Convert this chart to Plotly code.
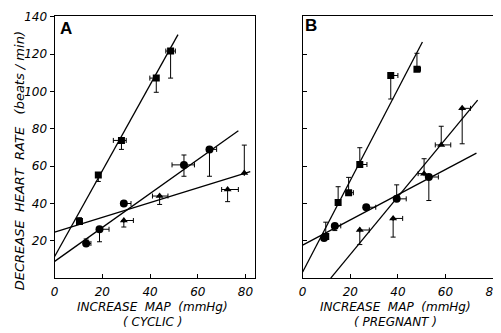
import plotly.graph_objects as go

# ---------------- Panel A (cyclic) ----------------
sqA_x = [10.4, 18.3, 28.0, 42.6, 48.6]
sqA_y = [30.4, 55.3, 73.8, 107.2, 121.7]
sqA_ey_plus = [2.0, 0, 0, 0, 0]
sqA_ey_minus = [0, 3.5, 4.8, 7.6, 14.5]
sqA_ex_plus = [0, 0, 2.0, 0, 2.0]
sqA_ex_minus = [0, 0, 3.4, 2.7, 2.0]

ciA_x = [13.2, 18.8, 29.0, 54.2, 64.9]
ciA_y = [18.6, 26.2, 40.0, 60.7, 69.0]
ciA_ey_plus = [2.4, 0, 0, 5.3, 0]
ciA_ey_minus = [0, 6.7, 0, 6.1, 14.4]
ciA_ex_plus = [2.0, 4.0, 3.0, 4.4, 3.0]
ciA_ex_minus = [0, 0, 0, 5.0, 0]

trA_x = [29.0, 44.0, 72.5, 79.5]
trA_y = [30.9, 44.0, 47.5, 56.3]
trA_ey_plus = [0, 0, 0, 15.0]
trA_ey_minus = [3.5, 4.5, 6.5, 0]
trA_ex_plus = [4.0, 3.5, 4.5, 0]
trA_ex_minus = [0, 3.0, 2.5, 0]

# regression lines A: slope, intercept, x-start, x-end
fitA_slope = [2.30, 0.909, 0.395]
fitA_intercept = [11.6, 9.0, 24.7]
fitA_xstart = [0, 0, 0]
fitA_xend = [51.7, 77.0, 82.0]

# ---------------- Panel B (pregnant) ----------------
sqB_x = [9.7, 14.9, 19.3, 24.0, 37.0, 48.0]
sqB_y = [22.3, 40.5, 45.8, 60.9, 108.6, 112.0]
sqB_ey_plus = [7.7, 8.5, 8.2, 9.0, 0, 8.5]
sqB_ey_minus = [0, 0, 0, 0, 12.6, 0]
sqB_ex_plus = [0, 0, 2.0, 3.0, 3.0, 1.5]
sqB_ex_minus = [0, 0, 0, 0, 0, 0]

ciB_x = [9.0, 13.5, 26.7, 39.5, 53.0]
ciB_y = [21.5, 28.0, 38.0, 42.5, 54.2]
ciB_ey_plus = [0, 0, 0, 7.5, 0]
ciB_ey_minus = [0, 2.5, 0, 0, 12.6]
ciB_ex_plus = [0, 2.5, 4.0, 4.0, 4.0]
ciB_ex_minus = [0, 0, 0, 0, 0]

trB_x = [24.0, 38.0, 51.0, 58.2, 67.0]
trB_y = [25.8, 32.0, 56.0, 71.4, 91.0]
trB_ey_plus = [0, 0, 8.0, 10.0, 0]
trB_ey_minus = [7.8, 10.0, 0, 0, 19.0]
trB_ex_plus = [4.0, 4.0, 0, 4.0, 3.5]
trB_ex_minus = [0, 0, 2.5, 2.5, 0]

fitB_slope = [2.45, 0.675, 1.546]
fitB_intercept = [3.3, 17.7, -18.2]
fitB_xstart = [0, 0, 11.8]
fitB_xend = [50.3, 73.0, 73.5]

x_ticks = [0, 20, 40, 60, 80]
y_ticks = [20, 40, 60, 80, 100, 120, 140]

fig = go.Figure()


def add_series(x, y, eyp, eym, exp_, exm, symbol, size, xa, ya):
    fig.add_trace(go.Scatter(
        x=x, y=y, mode="markers", xaxis=xa, yaxis=ya, showlegend=False,
        marker=dict(symbol=symbol, size=size, color="black"),
        error_y=dict(type="data", symmetric=False, array=eyp, arrayminus=eym,
                     color="black", thickness=1, width=2.5),
        error_x=dict(type="data", symmetric=False, array=exp_, arrayminus=exm,
                     color="black", thickness=1, width=2.5),
    ))


def add_fits(slopes, inters, xs, xe, xa, ya):
    for s, b, a, e in zip(slopes, inters, xs, xe):
        fig.add_trace(go.Scatter(
            x=[a, e], y=[b + s * a, b + s * e], mode="lines", xaxis=xa, yaxis=ya,
            showlegend=False, line=dict(color="black", width=1.3)))


add_fits(fitA_slope, fitA_intercept, fitA_xstart, fitA_xend, "x", "y")
add_series(sqA_x, sqA_y, sqA_ey_plus, sqA_ey_minus, sqA_ex_plus, sqA_ex_minus, "square", 7, "x", "y")
add_series(ciA_x, ciA_y, ciA_ey_plus, ciA_ey_minus, ciA_ex_plus, ciA_ex_minus, "circle", 8, "x", "y")
add_series(trA_x, trA_y, trA_ey_plus, trA_ey_minus, trA_ex_plus, trA_ex_minus, "triangle-up", 7, "x", "y")

add_fits(fitB_slope, fitB_intercept, fitB_xstart, fitB_xend, "x2", "y2")
add_series(sqB_x, sqB_y, sqB_ey_plus, sqB_ey_minus, sqB_ex_plus, sqB_ex_minus, "square", 7, "x2", "y2")
add_series(ciB_x, ciB_y, ciB_ey_plus, ciB_ey_minus, ciB_ex_plus, ciB_ex_minus, "circle", 8, "x2", "y2")
add_series(trB_x, trB_y, trB_ey_plus, trB_ey_minus, trB_ex_plus, trB_ex_minus, "triangle-up", 7, "x2", "y2")

W, H = 501, 333
OFF = 8  # page body margin offset
tickfont = dict(family="DejaVu Sans", size=12, color="black", style="italic")
ydom = [(H - (277 - OFF)) / H, (H - (10 - OFF)) / H]

common_x = dict(tickvals=x_ticks, ticks="inside", ticklen=4, tickwidth=1,
                tickcolor="black", showline=True, linecolor="black", linewidth=1.3,
                mirror=True, showgrid=False, zeroline=False, tickfont=tickfont,
                ticklabelstandoff=2, ticklabeloverflow="allow")

fig.update_layout(
    width=W, height=H, margin=dict(l=0, r=0, t=0, b=0),
    paper_bgcolor="white", plot_bgcolor="white",
    xaxis=dict(domain=[(51 - OFF) / W, (253 - OFF) / W], anchor="y", range=[0, 84], **common_x),
    yaxis=dict(domain=ydom, anchor="x", range=[0, 140.5], tickvals=y_ticks,
               ticks="outside", ticklen=4, tickwidth=1, tickcolor="black",
               showline=True, linecolor="black", linewidth=1.3, mirror=True,
               showgrid=False, zeroline=False, tickfont=tickfont,
               ticklabeloverflow="allow"),
    xaxis2=dict(domain=[(301 - OFF) / W, 1.0], anchor="y2", range=[0, 208 / 2.4], **common_x),
    yaxis2=dict(domain=ydom, anchor="x2", range=[0, 140.5], tickvals=y_ticks,
                ticks="inside", ticklen=4, tickwidth=1, tickcolor="black",
                showticklabels=False, showline=True, linecolor="black", linewidth=1.3,
                mirror=False, showgrid=False, zeroline=False),
)

txtfont = dict(family="DejaVu Sans", size=12, color="black", style="italic")
ytfont = dict(family="DejaVu Sans", size=13, color="black", style="italic")


def px_ann(text, x, y, font, angle=0):
    fig.add_annotation(text=text, x=(x - OFF) / W, y=1 - (y - OFF) / H, xref="paper", yref="paper",
                       xanchor="center", yanchor="middle", showarrow=False,
                       font=font, textangle=angle)


px_ann("DECREASE  HEART  RATE   (beats / min)", 15, 157, ytfont, -90)
px_ann("INCREASE  MAP  (mmHg)", 150, 306, txtfont)
px_ann("( CYCLIC )", 150, 322, txtfont)
px_ann("INCREASE  MAP  (mmHg)", 395, 306, txtfont)
px_ann("( PREGNANT )", 395, 322, txtfont)

labfont = dict(family="Liberation Sans", size=17, color="black", weight="bold")
px_ann("A", 62, 23, labfont)
px_ann("B", 309, 20, labfont)

fig.write_html("out.html")
